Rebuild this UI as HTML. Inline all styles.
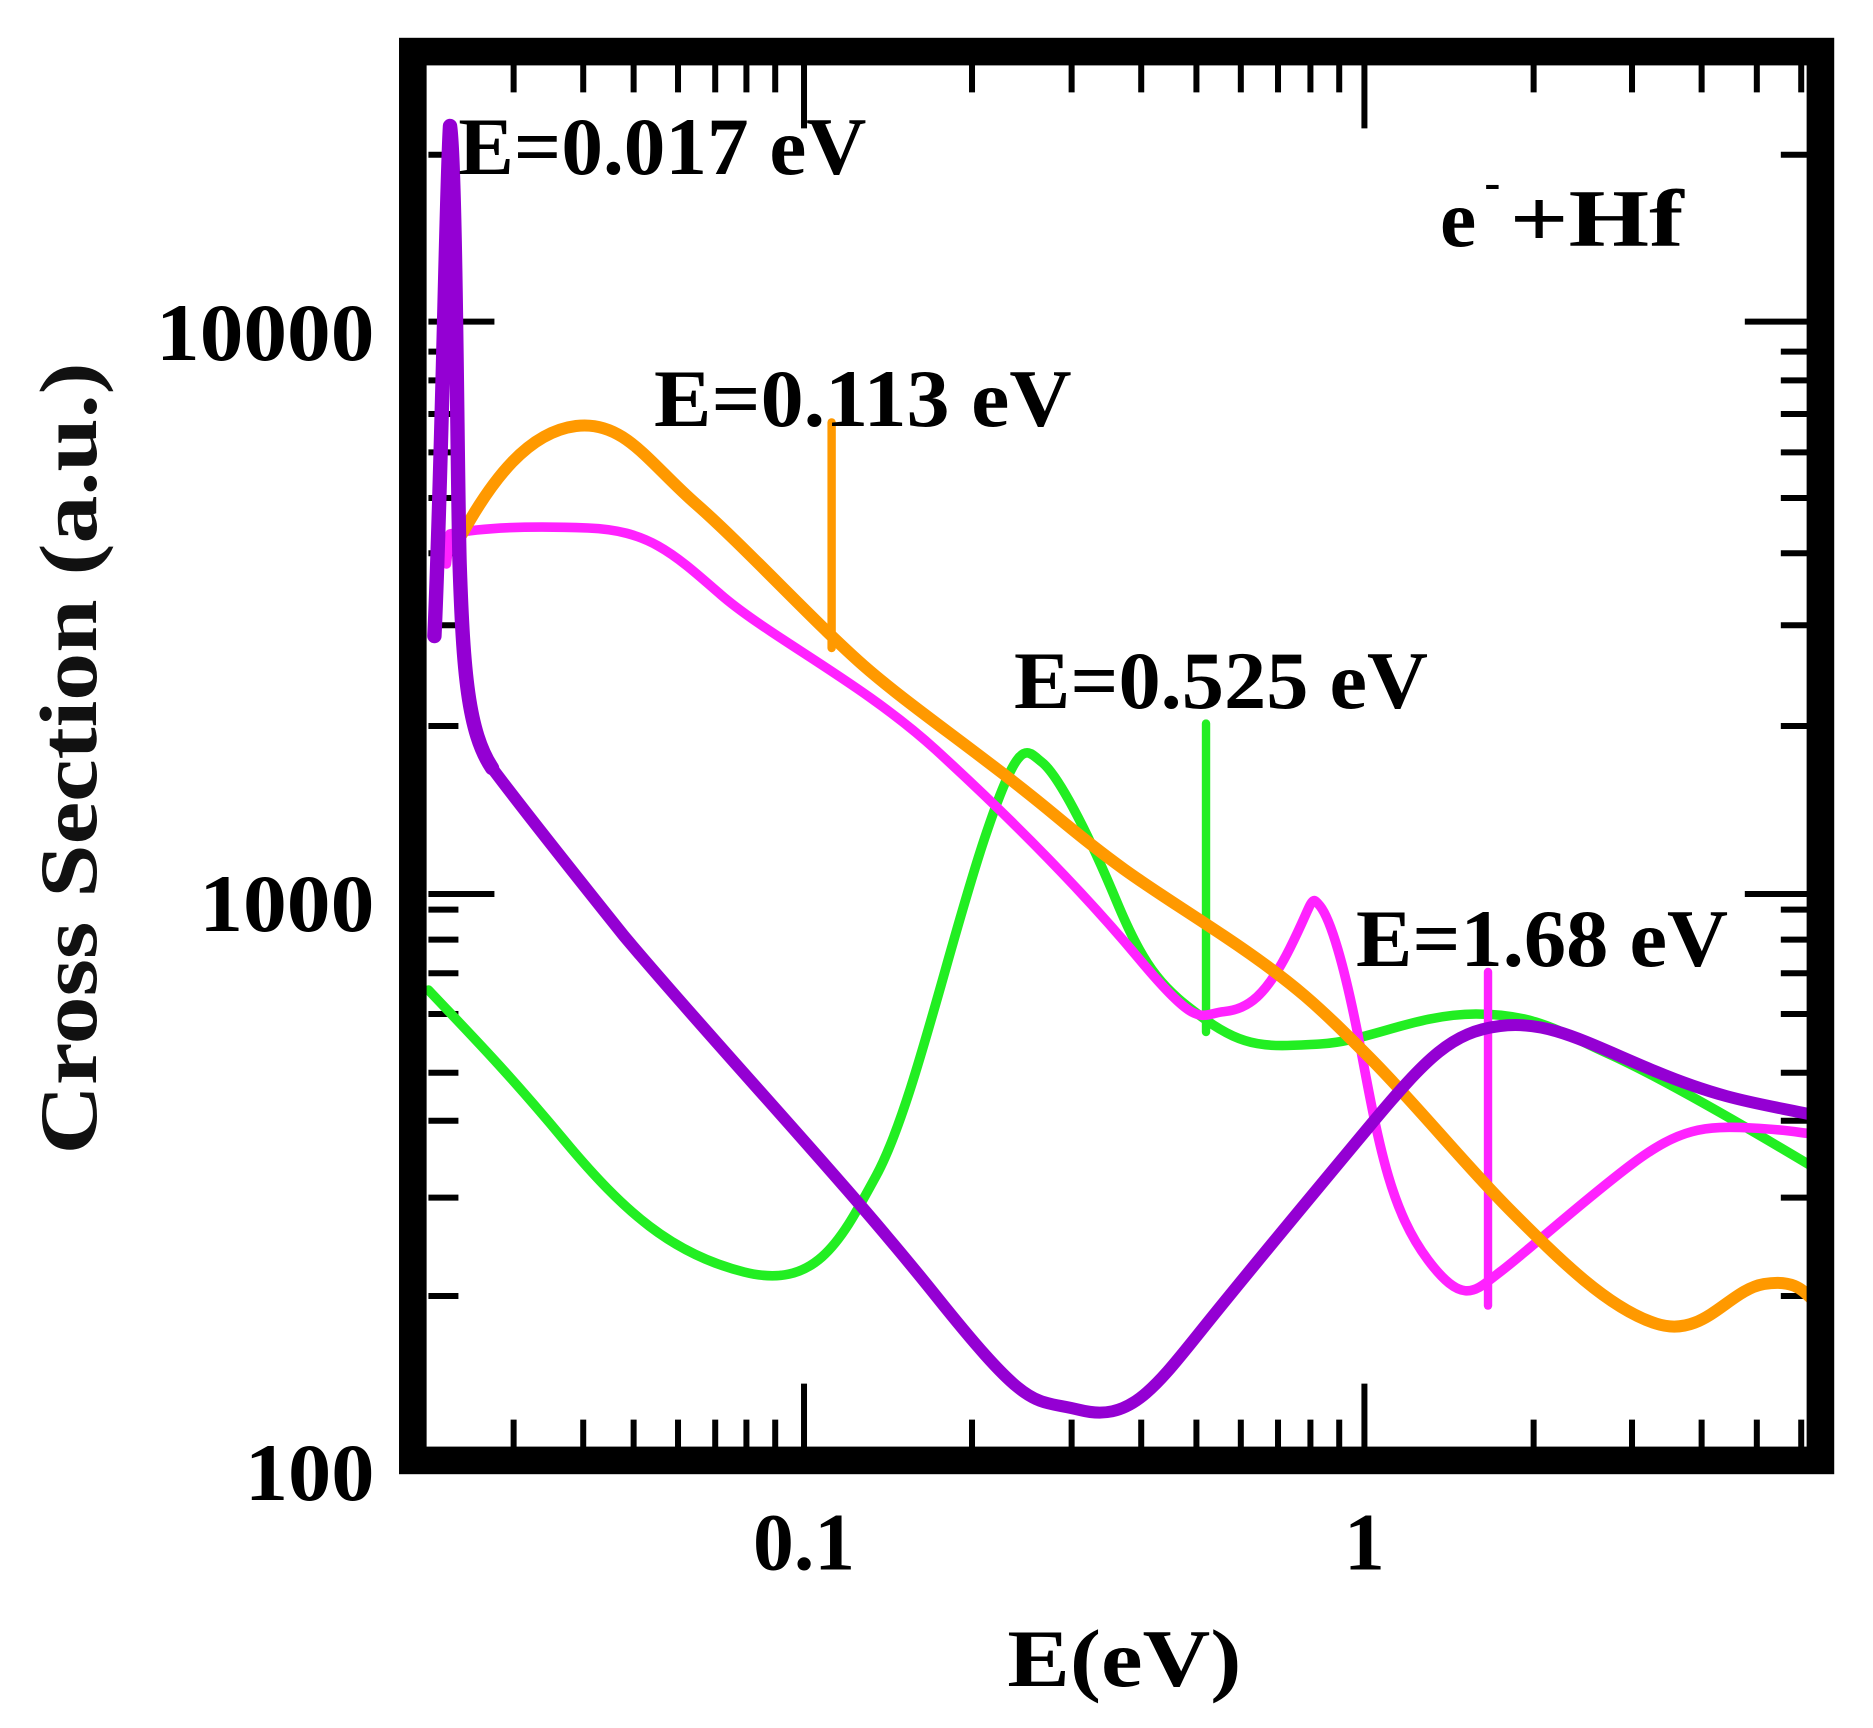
<!DOCTYPE html>
<html><head><meta charset="utf-8"><style>html,body{margin:0;padding:0;background:#fff}svg{display:block}</style></head>
<body>
<svg width="1873" height="1728" viewBox="0 0 1560.8 1440" xmlns="http://www.w3.org/2000/svg" style="font-family:'Liberation Serif',serif" font-weight="bold">
<rect width="1560.8" height="1440" fill="#fff"/>
<g stroke="#000" stroke-width="5">
<path d="M428 1208v-25M486 1208v-25M528 1208v-25M565 1208v-25M596 1208v-25M622 1208v-25M646 1208v-25M810 1208v-25M893 1208v-25M951 1208v-25M997 1208v-25M1034 1208v-25M1065 1208v-25M1092 1208v-25M1116 1208v-25M1278 1208v-25M1360 1208v-25M1418 1208v-25M1464 1208v-25M1501 1208v-25"/>
<path d="M428 52v25M486 52v25M528 52v25M565 52v25M596 52v25M622 52v25M646 52v25M810 52v25M893 52v25M951 52v25M997 52v25M1034 52v25M1065 52v25M1092 52v25M1116 52v25M1278 52v25M1360 52v25M1418 52v25M1464 52v25M1501 52v25"/>
<path d="M670 1208v-55M1137 1208v-55M670 52v55M1137 52v55"/>
<path d="M357 1080h25M357 998h25M357 934h25M357 894h25M357 845h25M357 811h25M357 783h25M357 758h25M357 605h25M357 521h25M357 461h25M357 415h25M357 377h25M357 345h25M357 317h25M357 293h25M357 129h25"/>
<path d="M1509 1080h-25M1509 998h-25M1509 934h-25M1509 894h-25M1509 845h-25M1509 811h-25M1509 783h-25M1509 758h-25M1509 605h-25M1509 521h-25M1509 461h-25M1509 415h-25M1509 377h-25M1509 345h-25M1509 317h-25M1509 293h-25M1509 129h-25"/>
<path d="M357 745h55M357 268h55M1509 745h-55M1509 268h-55"/>
</g>
<g fill="none" stroke-linejoin="round" stroke-linecap="round">
<path stroke="#22ee22" stroke-width="8" d="M357 825 C390 860,420 890,470 950 S560 1045,620 1060 S700 1035,730 980 S790 790,820 700 S855 625,868 635 S905 690,930 750 S970 825,1005 850 S1060 872,1100 870 S1180 845,1230 845 S1300 860,1340 878 S1440 930,1515 975"/>
<path stroke="#22ee22" stroke-width="7" d="M1005 603V860"/>
<path stroke="#ff22ff" stroke-width="8" d="M372 470 L375 445 C400 440,440 438,490 440 S560 460,600 495 S720 570,780 625 S900 740,950 800 S1000 845,1020 843 S1055 830,1075 790 S1092 745,1100 755 S1120 800,1135 880 S1160 1010,1190 1050 S1230 1075,1250 1060 S1320 1000,1360 970 S1420 938,1460 940 S1500 945,1515 945"/>
<path stroke="#ff22ff" stroke-width="7" d="M1240 810V1088"/>
<path stroke="#ff9900" stroke-width="10" d="M385 445 C410 400,440 360,480 355 S540 385,580 420 S680 520,720 555 S820 630,880 680 S960 740,1020 780 S1100 840,1140 880 S1220 970,1260 1010 S1340 1090,1380 1103 S1440 1075,1470 1070 S1505 1080,1515 1087"/>
<path stroke="#ff9900" stroke-width="7" d="M693 352V540"/>
<path stroke="#9400d3" stroke-width="12" d="M362 530 C368 400,372 150,375 105 C380 140,381 400,383 470 C386 560,390 610,410 640"/>
<path stroke="#9400d3" stroke-width="10" d="M410 640 C440 680,480 730,520 780 C600 875,700 980,780 1080 S860 1165,900 1175 S960 1160,1000 1110 S1090 1000,1140 940 S1210 860,1250 855 S1320 868,1380 893 S1470 920,1515 930"/>
</g>
<rect x="344" y="43" width="1173" height="1174" fill="none" stroke="#000" stroke-width="23"/>
<g fill="#000" font-size="68">
<text x="382" y="145" textLength="340" lengthAdjust="spacingAndGlyphs">E=0.017 eV</text>
<text x="545" y="355" textLength="348" lengthAdjust="spacingAndGlyphs">E=0.113 eV</text>
<text x="845" y="590" textLength="345" lengthAdjust="spacingAndGlyphs">E=0.525 eV</text>
<text x="1130" y="805" textLength="310" lengthAdjust="spacingAndGlyphs">E=1.68 eV</text>
<text x="1200" y="205">e</text>
<text x="1237" y="165" font-size="40">-</text>
<text x="1258" y="205" textLength="145" lengthAdjust="spacingAndGlyphs">+Hf</text>
<text x="312" y="300" text-anchor="end" textLength="182" lengthAdjust="spacingAndGlyphs">10000</text>
<text x="312" y="776" text-anchor="end" textLength="146" lengthAdjust="spacingAndGlyphs">1000</text>
<text x="312" y="1250" text-anchor="end" textLength="108" lengthAdjust="spacingAndGlyphs">100</text>
<text x="670" y="1308" text-anchor="middle">0.1</text>
<text x="1137" y="1308" text-anchor="middle">1</text>
<text x="937" y="1405" text-anchor="middle" textLength="195" lengthAdjust="spacingAndGlyphs">E(eV)</text>
<text transform="translate(80,632) rotate(-90)" text-anchor="middle" fill="#111" textLength="660" lengthAdjust="spacingAndGlyphs">Cross Section (a.u.)</text>
</g>
</svg>
</body></html>
